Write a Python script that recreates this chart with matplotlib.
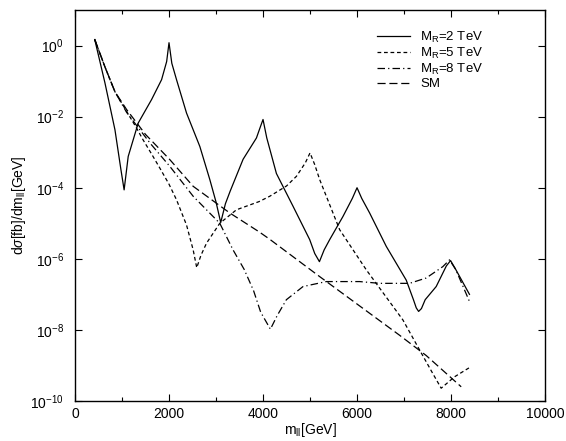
import matplotlib
matplotlib.use("Agg")
import matplotlib.pyplot as plt
import numpy as np
from matplotlib.ticker import FixedLocator, MultipleLocator

plt.rcParams["font.family"] = ["Liberation Sans", "DejaVu Sans"]
plt.rcParams["mathtext.fontset"] = "custom"
plt.rcParams["mathtext.rm"] = "Liberation Sans"
plt.rcParams["mathtext.it"] = "Liberation Sans:italic"

# values: mass [GeV] and log10 of dsigma/dm
m_2tev = [420, 637, 850, 977, 1045, 1132, 1345, 1629, 1842, 1950, 2000, 2060, 2160,
          2373, 2656, 2868, 3000, 3100, 3200, 3300, 3576, 3860, 3940, 4000, 4080,
          4285, 4638, 4993, 5100, 5200, 5300, 5418, 5700, 5900, 6000, 6100, 6268,
          6622, 7047, 7200, 7260, 7310, 7370, 7450, 7684, 7900, 7990, 8100, 8392]
log_2tev = [0.17, -1.05, -2.37, -3.49, -4.06, -3.12, -2.18, -1.52, -0.96, -0.45, 0.08,
            -0.5, -0.96, -1.9, -2.84, -3.77, -4.4, -4.98, -4.45, -4.1, -3.2, -2.6,
            -2.3, -2.08, -2.6, -3.6, -4.52, -5.46, -5.85, -6.08, -5.75, -5.46, -4.81,
            -4.3, -4.0, -4.3, -4.71, -5.65, -6.6, -7.15, -7.38, -7.48, -7.4, -7.15,
            -6.78, -6.2, -6.05, -6.3, -7.0]

m_5tev = [420, 637, 850, 1098, 1300, 1447, 1629, 1806, 2000, 2160, 2373, 2514, 2590,
          2680, 2798, 3080, 3435, 3916, 4143, 4500, 4710, 4900, 5000, 5100, 5205,
          5630, 6197, 6976, 7329, 7600, 7790, 8073, 8392]
log_5tev = [0.17, -0.6, -1.3, -1.85, -2.3, -2.65, -3.05, -3.45, -3.9, -4.34, -5.05,
            -5.75, -6.25, -5.9, -5.56, -5.0, -4.62, -4.39, -4.24, -3.95, -3.68, -3.3,
            -3.02, -3.35, -3.77, -5.18, -6.31, -7.72, -8.56, -9.2, -9.64, -9.32, -9.06]

m_8tev = [420, 637, 850, 1098, 1600, 2018, 2514, 3080, 3363, 3600, 3800, 3950, 4157,
          4300, 4497, 4851, 5347, 6055, 6480, 6905, 7117, 7471, 7825, 7967, 8100, 8392]
log_8tev = [0.17, -0.6, -1.3, -1.88, -2.75, -3.4, -4.24, -5.0, -5.75, -6.3, -6.9, -7.5,
            -7.98, -7.6, -7.15, -6.78, -6.64, -6.64, -6.69, -6.69, -6.69, -6.54, -6.22,
            -6.03, -6.3, -7.2]

m_sm = [420, 637, 850, 1098, 1500, 2018, 2514, 3293, 3916, 4143, 5205, 6338, 6905,
        7471, 8216]
log_sm = [0.17, -0.6, -1.3, -1.8, -2.5, -3.21, -3.96, -4.71, -5.24, -5.45, -6.5,
          -7.6, -8.15, -8.72, -9.6]

fig = plt.figure(figsize=(5.66, 4.41), dpi=100)
ax = fig.add_axes([0.1325, 0.0907, 0.8305, 0.8866])

lw = 0.9
ax.plot(m_2tev, 10.0 ** np.array(log_2tev), color="black", lw=lw, label=r"M$_{\rm R}$=2 TeV")
ax.plot(m_5tev, 10.0 ** np.array(log_5tev), color="black", lw=lw,
        linestyle=(0, (3, 2.2)), label=r"M$_{\rm R}$=5 TeV")
ax.plot(m_8tev, 10.0 ** np.array(log_8tev), color="black", lw=lw,
        linestyle=(0, (6, 2.5, 1, 2.5)), label=r"M$_{\rm R}$=8 TeV")
ax.plot(m_sm, 10.0 ** np.array(log_sm), color="black", lw=lw,
        linestyle=(0, (6.5, 3)), label="SM")

ax.set_yscale("log")
ax.set_xlim(0, 10000)
ax.set_ylim(1e-10, 10)
ax.xaxis.set_major_locator(MultipleLocator(2000))
ax.xaxis.set_minor_locator(MultipleLocator(1000))
ax.yaxis.set_major_locator(FixedLocator([1e-10, 1e-8, 1e-6, 1e-4, 1e-2, 1e0]))
ax.yaxis.set_minor_locator(FixedLocator([]))
ax.tick_params(which="both", direction="in", top=True, right=True, labelsize=10)
ax.tick_params(which="major", length=5, width=0.8)
ax.tick_params(which="minor", length=3, width=0.8)
ax.tick_params(axis="y", pad=8)
ax.tick_params(axis="x", pad=4)
for s in ax.spines.values():
    s.set_linewidth(1.0)

ax.set_xlabel(r"m$_{\rm ll}$[GeV]", fontsize=10, labelpad=0)
ax.set_ylabel(r"d$\sigma$[fb]/dm$_{\rm ll}$[GeV]", fontsize=10)
ax.yaxis.set_label_coords(-0.1, 0.5)

ax.legend(loc="upper left", bbox_to_anchor=(0.643, 0.95), frameon=False,
          fontsize=9.5, handlelength=2.5, handletextpad=0.75, labelspacing=0.08,
          borderpad=0, borderaxespad=0)

fig.savefig("out.png", dpi=100)
